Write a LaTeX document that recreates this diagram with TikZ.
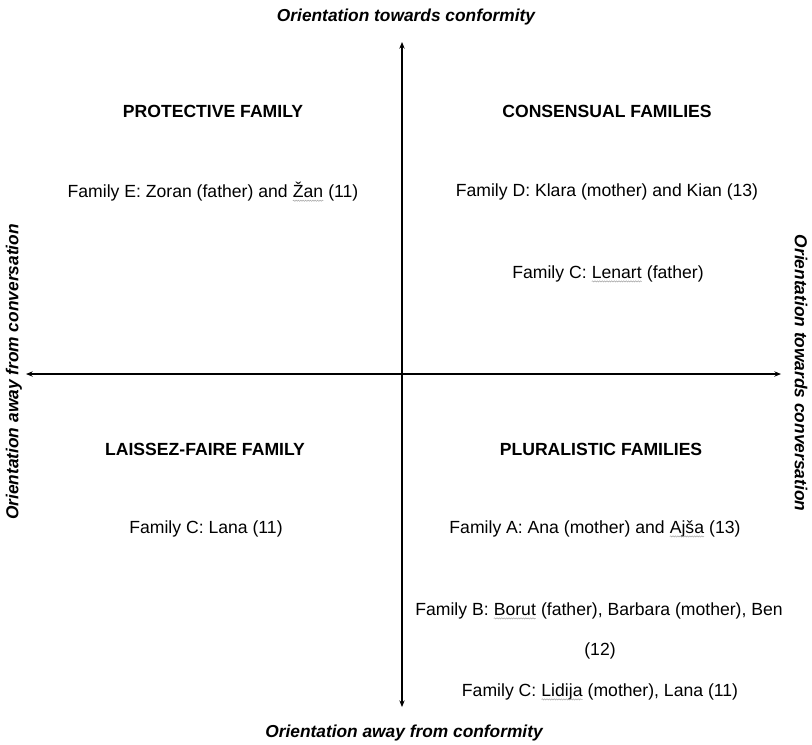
\documentclass[tikz,border=0pt]{standalone}
\usepackage{fontspec}
\setmainfont{Liberation Sans}
\usetikzlibrary{arrows.meta,decorations.pathmorphing}
\newcommand\spellwave[1]{\tikz[baseline=(sw.base),x=1pt,y=1pt]{\node[inner sep=0pt,outer sep=0pt,font=\fontsize{13.2}{15}\selectfont] (sw) {#1};\draw[gray!70,line width=0.4pt,decorate,decoration={snake,amplitude=0.45pt,segment length=1.8pt}] ([yshift=-2.2pt]sw.base west) -- ([yshift=-2.2pt]sw.base east);}}
\tikzset{
  axis/.style={line width=0.8pt,{Stealth[length=5pt,width=4pt]}-{Stealth[length=5pt,width=4pt]}},
  axlabel/.style={font=\fontsize{13}{15}\selectfont\bfseries\itshape,inner sep=0pt},
  head/.style={font=\fontsize{13.2}{15}\selectfont\bfseries,inner sep=0pt},
  item/.style={font=\fontsize{13.2}{15}\selectfont,inner sep=0pt},
}
\begin{document}
\begin{tikzpicture}[x=0.75pt,y=-0.75pt]
\useasboundingbox (0,0) rectangle (812,744);
\coordinate (top) at (402,42);
\coordinate (bot) at (402,707);
\coordinate (lft) at (26,374);
\coordinate (rgt) at (781,374);
\draw[axis] (bot) -- (top);
\draw[axis] (lft) -- (rgt);
\node[axlabel] (lt) at (406,17) {Orientation towards conformity};
\node[axlabel] (lb) at (404,733) {Orientation away from conformity};
\node[axlabel,rotate=90] (ll) at (14,372) {Orientation away from conversation};
\node[axlabel,rotate=-90] (lr) at (801,373) {Orientation towards conversation};
\node[head] (h1) at (213,111) {PROTECTIVE FAMILY};
\node[item] (e1) at (213,192) {Family E: Zoran (father) and \spellwave{Žan} (11)};
\node[head] (h2) at (607,111) {CONSENSUAL FAMILIES};
\node[item] (d1) at (607,192) {Family D: Klara (mother) and Kian (13)};
\node[item] (c1) at (608,274) {Family C: \spellwave{Lenart} (father)};
\node[head] (h3) at (205,449) {LAISSEZ-FAIRE FAMILY};
\node[item] (c2) at (206,529) {Family C: Lana (11)};
\node[head] (h4) at (601,449) {PLURALISTIC FAMILIES};
\node[item] (a1) at (595,529) {Family A: Ana (mother) and \spellwave{Ajša} (13)};
\node[item] (b1) at (599,611) {Family B: \spellwave{Borut} (father), Barbara (mother), Ben};
\node[item] (b2) at (600,651) {(12)};
\node[item] (c3) at (600,692) {Family C: \spellwave{Lidija} (mother), Lana (11)};
\end{tikzpicture}
\end{document}
